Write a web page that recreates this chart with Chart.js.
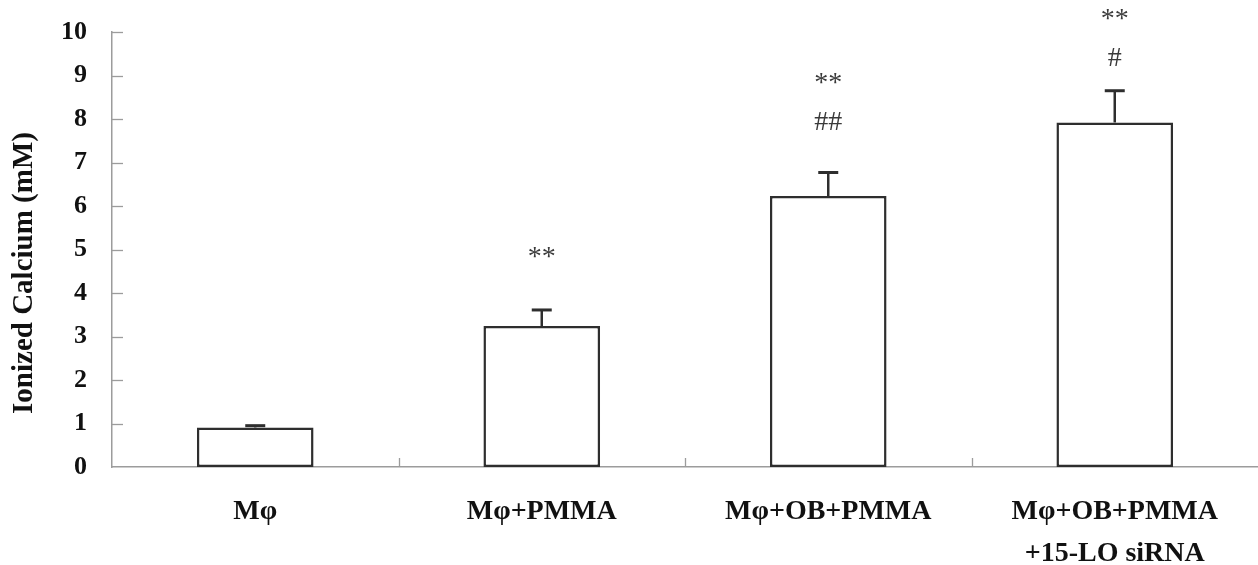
<!DOCTYPE html>
<html>
<head>
<meta charset="utf-8">
<script src="https://cdn.jsdelivr.net/npm/chart.js@4/dist/chart.umd.min.js"></script>
<style>
  html, body { margin: 0; padding: 0; background: #ffffff; }
  #wrap { width: 1258px; height: 565px; position: relative; }
</style>
</head>
<body>
<div id="wrap"><canvas id="c"></canvas></div>
<script>
// ---- data ----
const categories = [['Mφ'], ['Mφ+PMMA'], ['Mφ+OB+PMMA'], ['Mφ+OB+PMMA', '+15-LO siRNA']];
const calciumMean = [0.91, 3.24, 6.23, 7.92];
const calciumSD = [0.04, 0.37, 0.54, 0.73];
const yTickValues = [0, 1, 2, 3, 4, 5, 6, 7, 8, 9, 10];
const yAxisTitle = 'Ionized Calcium (mM)';
const starLabels = ['', '**', '**', '**'];
const starLevels = [null, 4.94, 8.93, 10.41];
const hashLabels = ['', '', '##', '#'];
const hashLevels = [null, null, 7.95, 9.42];

const SERIF = '"Liberation Serif", "Times New Roman", serif';
const AXIS_GRAY = '#9c9c9c';
const INK = '#2e2e2e';

const errorBarPlugin = {
  id: 'errorBars',
  afterDatasetsDraw(chart) {
    const ctx = chart.ctx;
    const y = chart.scales.y;
    const meta = chart.getDatasetMeta(0);
    ctx.save();
    ctx.strokeStyle = INK;
    meta.data.forEach((bar, i) => {
      const top = y.getPixelForValue(calciumMean[i] + calciumSD[i]);
      ctx.lineWidth = 2.5;
      ctx.beginPath();
      ctx.moveTo(bar.x, bar.y);
      ctx.lineTo(bar.x, top);
      ctx.stroke();
      ctx.lineWidth = 3;
      ctx.beginPath();
      ctx.moveTo(bar.x - 10, top);
      ctx.lineTo(bar.x + 10, top);
      ctx.stroke();
    });
    ctx.restore();
  }
};

const decorPlugin = {
  id: 'decor',
  afterDraw(chart) {
    const ctx = chart.ctx;
    const xs = chart.scales.x;
    const ys = chart.scales.y;
    const area = chart.chartArea;
    ctx.save();
    // inward tick marks on the y axis
    ctx.strokeStyle = AXIS_GRAY;
    ctx.lineWidth = 1.3;
    yTickValues.forEach(v => {
      if (v === 0) return;
      const py = Math.round(ys.getPixelForValue(v)) + 0.5;
      ctx.beginPath();
      ctx.moveTo(area.left, py);
      ctx.lineTo(area.left + 11, py);
      ctx.stroke();
    });
    // inward tick marks between categories on the x axis
    for (let i = 0; i < categories.length - 1; i++) {
      const px = Math.round((xs.getPixelForValue(i) + xs.getPixelForValue(i + 1)) / 2) + 0.5;
      ctx.beginPath();
      ctx.moveTo(px, area.bottom);
      ctx.lineTo(px, area.bottom - 9);
      ctx.stroke();
    }
    // y axis title
    ctx.fillStyle = '#111';
    ctx.font = 'bold 29px ' + SERIF;
    ctx.textAlign = 'center';
    ctx.textBaseline = 'middle';
    ctx.translate(25, 273);
    ctx.rotate(-Math.PI / 2);
    ctx.fillText(yAxisTitle, 0, 0);
    ctx.setTransform(1, 0, 0, 1, 0, 0);
    ctx.restore();

    // significance marks
    ctx.save();
    ctx.fillStyle = '#3a3a3a';
    ctx.font = '28px ' + SERIF;
    ctx.textAlign = 'center';
    ctx.textBaseline = 'alphabetic';
    const drawMark = (txt, level, i) => {
      if (!txt || level === null) return;
      const px = xs.getPixelForValue(i);
      const py = ys.getPixelForValue(level);
      const m = ctx.measureText(txt);
      const base = py + (m.actualBoundingBoxAscent - m.actualBoundingBoxDescent) / 2;
      ctx.fillText(txt, px, base);
    };
    categories.forEach((c, i) => {
      drawMark(starLabels[i], starLevels[i], i);
      drawMark(hashLabels[i], hashLevels[i], i);
    });
    ctx.restore();
  }
};

new Chart(document.getElementById('c'), {
  type: 'bar',
  data: {
    labels: categories,
    datasets: [{
      data: calciumMean,
      backgroundColor: '#ffffff',
      borderColor: INK,
      borderWidth: 2.5,
      borderSkipped: false,
      barPercentage: 0.407,
      categoryPercentage: 1.0
    }]
  },
  options: {
    responsive: true,
    maintainAspectRatio: false,
    animation: false,
    devicePixelRatio: 1,
    layout: { padding: { top: 32, right: 0, bottom: 0, left: 0 } },
    plugins: {
      legend: { display: false },
      tooltip: { enabled: false },
      title: { display: false }
    },
    scales: {
      x: {
        grid: { display: false, drawTicks: false },
        border: { display: true, color: AXIS_GRAY, width: 1.5 },
        ticks: {
          color: '#111',
          padding: 24,
          font: { family: SERIF, size: 28, weight: 'bold', lineHeight: 1.5 },
          maxRotation: 0,
          autoSkip: false
        },
        afterFit(scale) { scale.height = 98; scale.paddingLeft = 0; scale.paddingRight = 0; }
      },
      y: {
        min: 0,
        max: 10,
        afterBuildTicks(scale) { scale.ticks = yTickValues.map(v => ({ value: v })); },
        grid: { display: false, drawTicks: false },
        border: { display: true, color: AXIS_GRAY, width: 1.5 },
        ticks: {
          color: '#111',
          padding: 25,
          font: { family: SERIF, size: 26, weight: 'bold' }
        },
        afterFit(scale) { scale.width = 112; scale.paddingTop = 0; scale.paddingBottom = 0; }
      }
    }
  },
  plugins: [errorBarPlugin, decorPlugin]
});
</script>
</body>
</html>
